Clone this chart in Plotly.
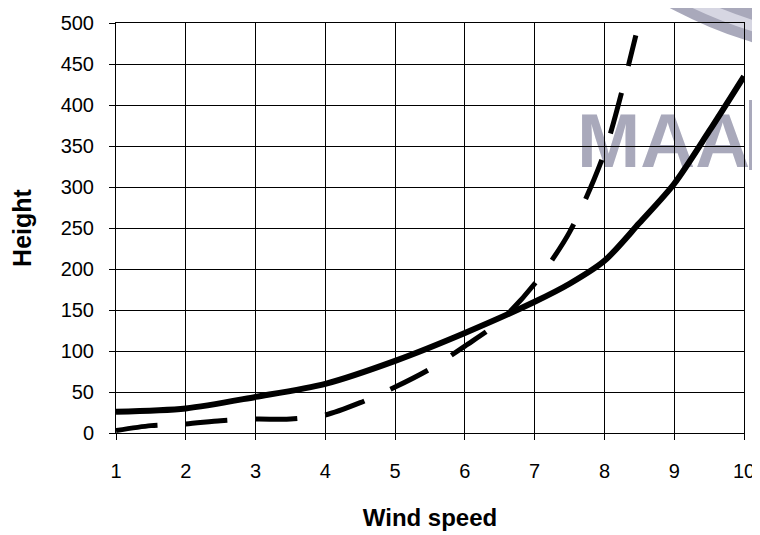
import plotly.graph_objects as go

# ---- data ----
solid_x = [1, 2, 3, 4, 5, 6, 7, 7.5, 8, 8.5, 9, 9.5, 10]
solid_y = [26, 30, 44, 60, 88, 122, 160, 182, 210, 256, 304, 368, 435]

dash_x = [1, 1.5, 2, 2.5, 3, 3.5, 4, 4.5, 5, 5.5, 6, 6.5, 7, 7.5, 8, 8.45]
dash_y = [3, 9, 11, 15, 17, 17, 22, 37, 56, 78, 106, 136, 182, 245, 342, 485]

x_ticks = [1, 2, 3, 4, 5, 6, 7, 8, 9, 10]
y_ticks = [0, 50, 100, 150, 200, 250, 300, 350, 400, 450, 500]

FONT = "Liberation Sans, Arial, sans-serif"

fig = go.Figure()
fig.add_trace(go.Scatter(
    x=solid_x, y=solid_y, mode="lines",
    line=dict(color="black", width=6, shape="spline", smoothing=0.8),
    showlegend=False, hoverinfo="skip",
))
fig.add_trace(go.Scatter(
    x=dash_x, y=dash_y, mode="lines",
    line=dict(color="black", width=5, shape="spline", smoothing=0.8, dash="42px,28px"),
    showlegend=False, hoverinfo="skip",
))

# page body has an 8px margin: positions below are in window pixels
OFF = 8
W, H = 760, 535
L, T, PW, PH = 116, 23, 628, 410


def px(xp):
    return (xp - L) / PW


def py(yp):
    return (T + PH - yp) / PH


# watermark (decoration): grey ring edge and letters, behind the grid
shapes = [
    dict(type="circle", xref="paper", yref="paper", layer="below",
         x0=px(900 - 404), x1=px(900 + 404), y0=py(-250 - 314), y1=py(-250 + 314),
         fillcolor="#a9a9bb", line=dict(width=0)),
    dict(type="circle", xref="paper", yref="paper", layer="below",
         x0=px(900 - 388), x1=px(900 + 388), y0=py(-250 - 298), y1=py(-250 + 298),
         fillcolor="#a9a9bb", line=dict(color="#d6d6e2", width=11)),
    dict(type="rect", xref="paper", yref="paper", layer="below",
         x0=px(574), x1=px(750), y0=py(176), y1=py(90),
         fillcolor="rgba(0,0,0,0)", line=dict(width=0),
         label=dict(text="MAA",
                    font=dict(family="Liberation Sans, Arial", size=76,
                              color="#a9a9bb", weight="bold"),
                    textposition="middle left", padding=0)),
    dict(type="rect", xref="paper", yref="paper", layer="below",
         x0=px(749), x1=px(762), y0=py(170), y1=py(100),
         fillcolor="#a9a9bb", line=dict(width=0)),
]

fig.update_layout(
    width=W, height=H,
    margin=dict(l=L - OFF, r=W - (L - OFF) - PW, t=T - OFF, b=H - (T - OFF) - PH, autoexpand=False),
    paper_bgcolor="white",
    plot_bgcolor="rgba(0,0,0,0)",
    font=dict(family=FONT, size=20, color="black"),
    shapes=shapes,
    xaxis=dict(
        range=[1, 10], tickvals=x_ticks, ticktext=[str(v) for v in x_ticks],
        showgrid=True, gridcolor="black", gridwidth=1,
        showline=True, linecolor="black", linewidth=1, mirror=True,
        ticks="outside", ticklen=6, tickcolor="black", ticklabelstandoff=14,
        zeroline=False, automargin=False,
        tickfont=dict(family=FONT, size=20, color="black"),
        title=dict(text="<b>Wind speed</b>", font=dict(family=FONT, size=24, color="black"), standoff=28),
    ),
    yaxis=dict(
        range=[0, 500], tickvals=y_ticks, ticktext=[str(v) for v in y_ticks],
        showgrid=True, gridcolor="black", gridwidth=1,
        showline=True, linecolor="black", linewidth=1, mirror=True,
        ticks="outside", ticklen=6, tickcolor="black", ticklabelstandoff=11,
        zeroline=False, automargin=False,
        tickfont=dict(family=FONT, size=20, color="black"),
        title=dict(text="<b>Height</b>", font=dict(family=FONT, size=25, color="black"), standoff=24),
    ),
)

fig.write_html("out.html")
